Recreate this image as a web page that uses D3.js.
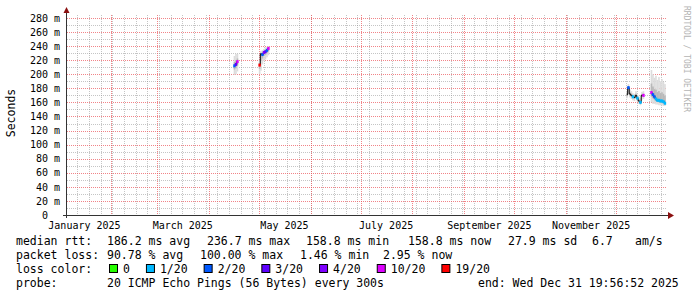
<!DOCTYPE html>
<html>
<head>
<meta charset="utf-8">
<script src="https://cdn.jsdelivr.net/npm/d3@7"></script>
<style>
  body { margin: 0; background: #fff; }
  svg text { font-family: "DejaVu Sans Mono", monospace; white-space: pre; }
</style>
</head>
<body>
<script>
const wSvg = 697;
const hSvg = 297;
const plotLeft = 67, plotRight = 667, plotTop = 15, plotBottom = 215;

// time window of the graph (360 days ending at "end:")
const startTime = new Date(Date.UTC(2025, 0, 5, 19, 56, 52));
const endTime = new Date(Date.UTC(2025, 11, 31, 19, 56, 52));

const yTicks = [0, 20, 40, 60, 80, 100, 120, 140, 160, 180, 200, 220, 240, 260, 280];
const yMinorTicks = [10, 30, 50, 70, 90, 110, 130, 150, 170, 190, 210, 230, 250, 270];
const monthLabels = ["January 2025", "March 2025", "May 2025", "July 2025", "September 2025", "November 2025"];

// samples: day since Jan 1 2025, median rtt (ms), lost pings out of 20 (null = median line only), smoke range (ms)
const sampleDay = [105.3, 106.2, 107.1,
  120.4, 121.2, 122.1, 123.0, 123.9, 124.8, 125.7,
  340.8, 341.7, 342.6, 343.5, 344.4, 345.3, 346.2, 347.1, 348.0, 348.9, 349.8, 350.7,
  355.5, 356.4, 357.3, 358.2, 359.1, 360.0, 360.9, 361.8, 362.7, 363.6];
const medianMs = [212, 214, 218,
  213, 229, 228, 231, 232, 234, 236.7,
  171, 181, 172, 170, 168, 167, 170, 166, 162, 160, 170, 170,
  174, 171, 168, 165, 163, 163, 162, 162, 161, 158.8];
const lossCount = [2, 3, 10,
  19, null, 2, 4, 3, 2, 10,
  null, 2, null, null, 1, null, null, 1, null, 1, null, 10,
  10, 2, 2, 1, 1, 1, 1, 1, 1, 1];
const smokeLo = [199, 200, 204,
  200, 205, 214, 219, 221, 224, 227,
  166, 174, 167, 165, 163, 162, 165, 161, 158, 156, 164, 165,
  160, 158, 158, 157, 157, 156, 156, 156, 155, 155];
const smokeHi = [226, 229, 229,
  220, 233, 234, 236, 238, 239, 240,
  176, 186, 178, 176, 173, 172, 176, 171, 168, 166, 175, 176,
  206, 200, 195, 198, 192, 196, 190, 193, 189, 186];

const lossLabels = ["0", "1/20", "2/20", "3/20", "4/20", "10/20", "19/20"];
const lossColors = ["#26ff00", "#00b8ff", "#0059ff", "#5e00ff", "#7e00ff", "#dd00ff", "#ff0000"];

const rttStats = ["186.2 ms avg", "236.7 ms max", "158.8 ms min", "158.8 ms now", "27.9 ms sd", "6.7", "am/s"];
const lossStats = ["90.78 % avg", "100.00 % max", "1.46 % min", "2.95 % now"];
const probeText = "20 ICMP Echo Pings (56 Bytes) every 300s";
const endText = "end: Wed Dec 31 19:56:52 2025";

const dayToDate = d => new Date(Date.UTC(2025, 0, 1) + d * 864e5);
const samples = sampleDay.map((d, i) => ({
  t: dayToDate(d), med: medianMs[i], loss: lossCount[i], lo: smokeLo[i], hi: smokeHi[i]
}));

// split into runs where pings were answered
let runs = [];
samples.forEach((s, i) => {
  if (i === 0 || sampleDay[i] - sampleDay[i - 1] > 3) runs.push([]);
  runs[runs.length - 1].push(s);
});

const xScale = d3.scaleUtc([startTime, endTime], [plotLeft, plotRight]);
const yScale = d3.scaleLinear([0, 284.2], [plotBottom, plotTop]);
const lossColor = d3.scaleThreshold([1, 2, 3, 4, 10, 19], lossColors);

let svg = d3.select("body")
  .append("svg")
  .attr("width", wSvg)
  .attr("height", hSvg);

// grid
let grid = svg.append("g").attr("shape-rendering", "crispEdges");
const minorColor = "rgba(140,140,140,0.5)";
const majorColor = "rgba(235,80,85,0.7)";

grid.selectAll(".ymin").data(yMinorTicks).enter().append("line")
  .attr("x1", plotLeft).attr("x2", plotRight)
  .attr("y1", d => Math.round(yScale(d)) + 0.5).attr("y2", d => Math.round(yScale(d)) + 0.5)
  .attr("stroke", minorColor).attr("stroke-dasharray", "1,1");

grid.selectAll(".xmin").data(d3.utcSunday.range(startTime, endTime)).enter().append("line")
  .attr("x1", d => Math.round(xScale(d)) + 0.5).attr("x2", d => Math.round(xScale(d)) + 0.5)
  .attr("y1", plotTop).attr("y2", plotBottom)
  .attr("stroke", minorColor).attr("stroke-dasharray", "1,1");

grid.selectAll(".ymaj").data(yTicks.slice(1)).enter().append("line")
  .attr("x1", plotLeft).attr("x2", plotRight)
  .attr("y1", d => Math.round(yScale(d)) + 0.5).attr("y2", d => Math.round(yScale(d)) + 0.5)
  .attr("stroke", majorColor).attr("stroke-dasharray", "1,1");

grid.selectAll(".xmaj").data(d3.utcMonth.range(startTime, endTime)).enter().append("line")
  .attr("x1", d => Math.round(xScale(d)) + 0.5).attr("x2", d => Math.round(xScale(d)) + 0.5)
  .attr("y1", plotTop).attr("y2", plotBottom)
  .attr("stroke", majorColor).attr("stroke-dasharray", "1,1");

// smoke
const stepPx = 1.6;
let smoke = svg.append("g");
smoke.selectAll(".outer").data(samples).enter().append("rect")
  .attr("x", d => xScale(d.t) - stepPx / 2).attr("width", stepPx)
  .attr("y", d => yScale(d.hi)).attr("height", d => yScale(d.lo) - yScale(d.hi))
  .attr("fill", "#dcdcdc");
smoke.selectAll(".inner").data(samples).enter().append("rect")
  .attr("x", d => xScale(d.t) - stepPx / 2).attr("width", stepPx)
  .attr("y", d => yScale(d.med + (d.hi - d.med) * 0.4))
  .attr("height", d => yScale(d.med - (d.med - d.lo) * 0.4) - yScale(d.med + (d.hi - d.med) * 0.4))
  .attr("fill", "#b8b8b8");

// median line
const line = d3.line().x(d => xScale(d.t)).y(d => yScale(d.med)).curve(d3.curveStep);
svg.append("g").selectAll("path").data(runs).enter().append("path")
  .attr("d", line).attr("fill", "none").attr("stroke", "#000").attr("stroke-width", 1);

svg.append("g").selectAll("rect").data(samples.filter(d => d.loss !== null)).enter().append("rect")
  .attr("x", d => xScale(d.t) - 1.2).attr("width", 2.4)
  .attr("y", d => yScale(d.med) - 1.5).attr("height", 3)
  .attr("fill", d => lossColor(d.loss));

// axes
const axisColor = "#333";
const arrowColor = "#8b1010";
svg.append("line").attr("x1", 63).attr("x2", 669).attr("y1", plotBottom + 0.5).attr("y2", plotBottom + 0.5)
  .attr("stroke", axisColor).attr("shape-rendering", "crispEdges");
svg.append("line").attr("x1", plotLeft - 0.5).attr("x2", plotLeft - 0.5).attr("y1", 218).attr("y2", 12)
  .attr("stroke", axisColor).attr("shape-rendering", "crispEdges");
svg.append("path").attr("d", "M668,212L674,215.5L668,219Z").attr("fill", arrowColor);
svg.append("path").attr("d", "M63.5,13L66.5,7L69.5,13Z").attr("fill", arrowColor);

let yAxis = svg.append("g")
  .attr("transform", `translate(${plotLeft - 7}, 0)`)
  .call(d3.axisLeft(yScale).tickValues(yTicks).tickSize(0).tickPadding(0)
    .tickFormat(d => d === 0 ? "0  " : d + " m"));
yAxis.select(".domain").remove();
yAxis.attr("font-family", null).attr("font-size", 10);
yAxis.selectAll("text").attr("fill", "#000").attr("font-size", 10);

const labelDates = d3.utcMonth.every(2).range(new Date(Date.UTC(2025, 0, 1)), endTime)
  .map(d => d3.utcDay.offset(d, 15));
let xAxis = svg.append("g")
  .attr("transform", `translate(0, ${plotBottom})`)
  .call(d3.axisBottom(xScale).tickValues(labelDates).tickSize(0).tickPadding(6.5)
    .tickFormat((d, i) => monthLabels[i]));
xAxis.select(".domain").remove();
xAxis.attr("font-family", null).attr("font-size", 10);
xAxis.selectAll("text").attr("fill", "#000").attr("font-size", 10);

svg.append("text")
  .attr("transform", "translate(15, 113) rotate(-90)")
  .attr("text-anchor", "middle")
  .attr("font-size", "11.5px")
  .attr("fill", "#000")
  .text("Seconds");

svg.append("text")
  .attr("transform", "translate(684, 59) rotate(90)")
  .attr("text-anchor", "middle")
  .attr("font-size", "8px")
  .attr("fill", "#b4b4b4")
  .text("RRDTOOL / TOBI OETIKER");

// legend
const fs = "11.5px";
function put(x, y, s) {
  return svg.append("text").attr("x", x).attr("y", y).attr("font-size", fs).attr("fill", "#000").text(s);
}
put(16, 245, "median rtt:");
[107, 207, 306, 408, 508, 592, 635].forEach((x, i) => put(x, 245, rttStats[i]));
put(16, 259, "packet loss:");
[107, 200, 300, 383].forEach((x, i) => put(x, 259, lossStats[i]));
put(16, 273, "loss color:");
let cursor = 109;
lossLabels.forEach((lab, i) => {
  svg.append("rect").attr("x", cursor + 0.5).attr("y", 264.5).attr("width", 8).attr("height", 8)
    .attr("fill", lossColors[i]).attr("stroke", "#000").attr("stroke-width", 1);
  let t = put(cursor + 14, 273, lab);
  cursor = cursor + 14 + t.node().getComputedTextLength() + 16;
});
put(16, 287, "probe:");
put(107, 287, probeText);
put(478, 287, endText);
</script>
</body>
</html>
